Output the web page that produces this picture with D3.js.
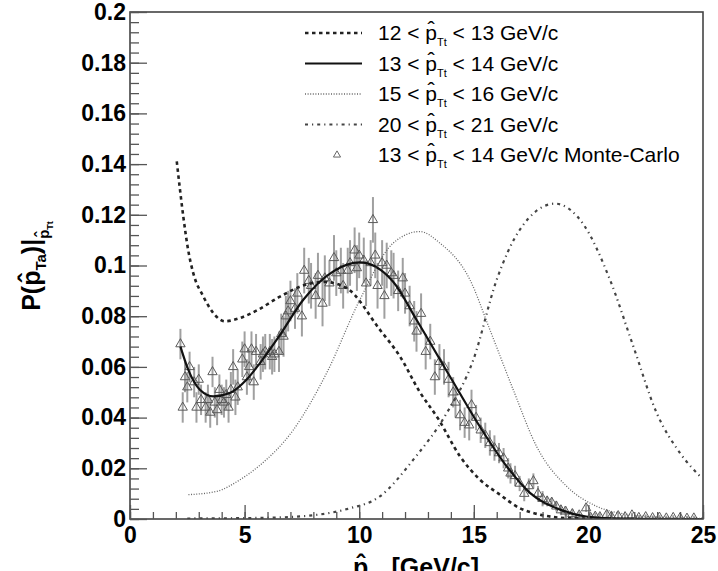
<!DOCTYPE html>
<html>
<head>
<meta charset="utf-8">
<script src="https://cdn.jsdelivr.net/npm/d3@7"></script>
<style>
  html, body { margin: 0; padding: 0; background: #fff; }
  svg { display: block; font-family: "Liberation Sans", Arial, Helvetica, sans-serif; }
  svg text { white-space: pre; }
</style>
</head>
<body>
<svg id="chart" width="718" height="571"></svg>
<script>
// Conditional distributions P(p_Ta) for several trigger-momentum bins
const xTickValues = [0, 5, 10, 15, 20, 25];
const xTickLabels = ["0", "5", "10", "15", "20", "25"];
const yTickValues = [0, 0.02, 0.04, 0.06, 0.08, 0.1, 0.12, 0.14, 0.16, 0.18, 0.2];
const yTickLabels = ["0", "0.02", "0.04", "0.06", "0.08", "0.1", "0.12", "0.14", "0.16", "0.18", "0.2"];

// 12 < pTt < 13 GeV/c
const bin12X = [2.04, 2.18, 2.33, 2.54, 2.76, 3.2, 3.63, 4.14, 4.8, 5.6, 6.5, 7.7, 8.5, 9.45, 10.9, 11.78, 12.65, 13.45, 14.4, 15.27, 16.14, 17.0, 17.9, 19.0, 20.5, 22.0, 25.0];
const bin12Y = [0.1411, 0.130, 0.119, 0.106, 0.097, 0.0878, 0.0813, 0.0780, 0.0793, 0.0826, 0.0875, 0.0925, 0.0935, 0.0911, 0.0747, 0.0641, 0.0500, 0.0395, 0.0247, 0.0155, 0.0096, 0.0043, 0.0017, 0.0004, 0.0001, 0.0, 0.0];

// 13 < pTt < 14 GeV/c
const bin13X = [2.2, 2.54, 3.05, 3.64, 4.36, 5.09, 5.67, 6.5, 7.56, 8.87, 10.03, 11.49, 12.5, 13.96, 15.35, 16.44, 17.45, 18.76, 19.9, 21.0, 23.0, 25.0];
const bin13Y = [0.0680, 0.0589, 0.0510, 0.0484, 0.0497, 0.0550, 0.0615, 0.0720, 0.0865, 0.0977, 0.1012, 0.0935, 0.0786, 0.0562, 0.0352, 0.0207, 0.0103, 0.0037, 0.0010, 0.0003, 0.0, 0.0];

// 15 < pTt < 16 GeV/c
const bin15X = [2.55, 3.78, 4.8, 5.6, 7.13, 8.58, 10.03, 11.49, 12.65, 13.5, 14.83, 15.7, 16.72, 17.74, 19.05, 20.36, 21.8, 23.5, 25.0];
const bin15Y = [0.0096, 0.0109, 0.0155, 0.0207, 0.0352, 0.0576, 0.0865, 0.1089, 0.1134, 0.1090, 0.0944, 0.0747, 0.0510, 0.0286, 0.0129, 0.0050, 0.0017, 0.0005, 0.0002];

// 20 < pTt < 21 GeV/c
const bin20X = [2.5, 6.0, 8.0, 9.5, 10.9, 12.36, 13.82, 14.98, 16.0, 17.0, 18.54, 19.8, 20.94, 21.96, 22.98, 24.0, 24.94];
const bin20Y = [0.0002, 0.0005, 0.0015, 0.0040, 0.0089, 0.0234, 0.0418, 0.0628, 0.0944, 0.1140, 0.1244, 0.1160, 0.0944, 0.0681, 0.0418, 0.0260, 0.0162];

// Monte-Carlo, 13 < pTt < 14 GeV/c
const mcX = [2.2, 2.3, 2.4, 2.5, 2.6, 2.8, 2.9, 3.0, 3.1, 3.3, 3.4, 3.5, 3.6, 3.7, 3.8, 3.9, 4.0, 4.1, 4.2, 4.3,
             4.4, 4.5, 4.6, 4.7, 4.9, 5.0, 5.1, 5.2, 5.3, 5.4, 5.5, 5.7, 5.8, 5.9, 6.1, 6.2, 6.3, 6.5, 6.6, 6.7,
             6.8, 6.9, 7.0, 7.2, 7.3, 7.5, 7.6, 7.8, 7.9, 8.1, 8.2, 8.4, 8.5, 8.7, 8.9, 9.0, 9.2, 9.3, 9.5, 9.6,
             9.8, 9.9, 10.0, 10.2, 10.3, 10.5, 10.6, 10.7, 10.8, 11.0, 11.1, 11.2, 11.4, 11.5, 11.7, 11.9, 12.0, 12.2, 12.4, 12.5,
             12.7, 12.9, 13.1, 13.3, 13.5, 13.7, 13.9, 14.1, 14.2, 14.4, 14.6, 14.8, 14.9, 15.1, 15.3, 15.5, 15.7, 15.9, 16.1, 16.3,
             16.5, 16.6, 16.8, 17.0, 17.2, 17.4, 17.6, 17.8, 18.0, 18.2, 18.4, 18.6, 18.8, 19.0, 19.3, 19.6, 19.9, 20.1, 20.3, 20.5,
             20.8, 21.0, 21.3, 21.6, 21.9, 22.2, 22.5, 22.8, 23.1, 23.4, 23.7, 24.0, 24.3, 24.6];
const mcY = [0.069, 0.044, 0.056, 0.052, 0.060, 0.054, 0.044, 0.055, 0.047, 0.044, 0.047, 0.042, 0.058, 0.046, 0.043, 0.051, 0.047, 0.046, 0.049, 0.044,
             0.051, 0.060, 0.048, 0.052, 0.063, 0.067, 0.056, 0.060, 0.067, 0.054, 0.066, 0.062, 0.065, 0.066, 0.066, 0.064, 0.065, 0.066, 0.073, 0.072,
             0.080, 0.082, 0.086, 0.083, 0.089, 0.080, 0.098, 0.094, 0.092, 0.088, 0.096, 0.085, 0.095, 0.093, 0.103, 0.097, 0.098, 0.092, 0.098, 0.101,
             0.106, 0.099, 0.104, 0.102, 0.093, 0.101, 0.118, 0.104, 0.092, 0.101, 0.088, 0.100, 0.097, 0.096, 0.090, 0.095, 0.089, 0.084, 0.078, 0.074,
             0.081, 0.066, 0.070, 0.056, 0.062, 0.060, 0.055, 0.050, 0.046, 0.041, 0.038, 0.037, 0.045, 0.040, 0.035, 0.033, 0.030, 0.028, 0.026, 0.024,
             0.020, 0.018, 0.017, 0.014, 0.010, 0.013, 0.015, 0.010, 0.008, 0.007, 0.0065, 0.005, 0.0035, 0.003, 0.002, 0.0015, 0.0043, 0.0005, 0.001, 0.0008,
             0.0017, 0.001, 0.0012, 0.0008, 0.0015, 0.0005, 0.0008, 0.0004, 0.0006, 0.0003, 0.0005, 0.0004, 0.0002, 0.0003];
const mcErr = [0.006, 0.006, 0.006, 0.006, 0.006, 0.006, 0.006, 0.006, 0.006, 0.006, 0.006, 0.006, 0.006, 0.006, 0.006, 0.006, 0.006, 0.006, 0.006, 0.006,
               0.007, 0.007, 0.007, 0.007, 0.007, 0.007, 0.007, 0.007, 0.007, 0.007, 0.007, 0.007, 0.007, 0.007, 0.007, 0.007, 0.007, 0.008, 0.008, 0.008,
               0.008, 0.008, 0.008, 0.008, 0.008, 0.008, 0.009, 0.009, 0.009, 0.009, 0.009, 0.009, 0.009, 0.009, 0.009, 0.009, 0.009, 0.009, 0.009, 0.009,
               0.009, 0.009, 0.009, 0.009, 0.009, 0.009, 0.009, 0.009, 0.009, 0.009, 0.009, 0.009, 0.009, 0.009, 0.008, 0.008, 0.008, 0.008, 0.008, 0.008,
               0.008, 0.007, 0.007, 0.007, 0.007, 0.007, 0.007, 0.006, 0.006, 0.006, 0.006, 0.006, 0.006, 0.005, 0.005, 0.005, 0.005, 0.005, 0.004, 0.004,
               0.004, 0.004, 0.004, 0.003, 0.003, 0.003, 0.003, 0.003, 0.003, 0.002, 0.002, 0.002, 0.002, 0.002, 0.002, 0.0015, 0.0015, 0.0015, 0.0015, 0.0015,
               0.0015, 0.0015, 0.0015, 0.001, 0.001, 0.001, 0.001, 0.001, 0.001, 0.001, 0.001, 0.001, 0.001, 0.001];

const legendLow = ["12", "13", "15", "20", "13"];
const legendHigh = ["13", "14", "16", "21", "14"];
const legendTail = ["", "", "", "", " Monte-Carlo"];

const svg = d3.select("#chart");
const FONT = "'Liberation Sans', Arial, Helvetica, sans-serif";

const x = d3.scaleLinear().domain([0, 25]).range([130, 703]);
const y = d3.scaleLinear().domain([0, 0.2]).range([519, 12]);

// clip region for the plot frame
svg.append("defs").append("clipPath").attr("id", "frame")
  .append("rect").attr("x", x(0)).attr("y", y(0.2))
  .attr("width", x(25) - x(0)).attr("height", y(0) - y(0.2));

const plot = svg.append("g").attr("clip-path", "url(#frame)");

const line = d3.line().x(d => x(d[0])).y(d => y(d[1])).curve(d3.curveMonotoneX);
const zip = (a, b) => a.map((v, i) => [v, b[i]]);

// Monte-Carlo error bars and markers
const mc = mcX.map((v, i) => ({ x: v, y: mcY[i], e: mcErr[i] }));
plot.append("g").selectAll("line").data(mc).join("line")
  .attr("x1", d => x(d.x)).attr("x2", d => x(d.x))
  .attr("y1", d => y(d.y - d.e)).attr("y2", d => y(d.y + d.e))
  .attr("stroke", "#a0a0a0").attr("stroke-width", 2);
const tri = d3.symbol().type(d3.symbolTriangle).size(38);
plot.append("g").selectAll("path").data(mc).join("path")
  .attr("d", tri)
  .attr("transform", d => `translate(${x(d.x)},${y(d.y)})`)
  .attr("fill", "none").attr("stroke", "#5a5a5a").attr("stroke-width", 1);

// curves
const curves = [
  { xs: bin12X, ys: bin12Y, color: "#222", width: 2.6, dash: "3.5,3.5" },
  { xs: bin13X, ys: bin13Y, color: "#111", width: 2.2, dash: null },
  { xs: bin15X, ys: bin15Y, color: "#666", width: 1.3, dash: "1,1.6" },
  { xs: bin20X, ys: bin20Y, color: "#444", width: 2.2, dash: "3,4,1.2,4" }
];
curves.forEach(c => {
  plot.append("path").datum(zip(c.xs, c.ys))
    .attr("d", line).attr("fill", "none")
    .attr("stroke", c.color).attr("stroke-width", c.width)
    .attr("stroke-dasharray", c.dash);
});

// frame
svg.append("rect").attr("x", x(0)).attr("y", y(0.2))
  .attr("width", x(25) - x(0)).attr("height", y(0) - y(0.2))
  .attr("fill", "none").attr("stroke", "#444").attr("stroke-width", 1.6);

// y axis: inward ticks
const yMinor = d3.range(0, 0.2001, 0.004);
svg.append("g").attr("transform", `translate(${x(0)},0)`)
  .call(d3.axisRight(y).tickValues(yMinor).tickSize(9).tickFormat(""))
  .call(g => g.select(".domain").remove())
  .call(g => g.selectAll("line").attr("stroke", "#555").attr("stroke-width", 1.3));
svg.append("g").attr("transform", `translate(${x(0)},0)`)
  .call(d3.axisRight(y).tickValues(yTickValues).tickSize(17).tickFormat(""))
  .call(g => g.select(".domain").remove())
  .call(g => g.selectAll("line").attr("stroke", "#555").attr("stroke-width", 1.3));
svg.append("g").attr("transform", `translate(${x(0)},0)`)
  .call(d3.axisLeft(y).tickValues(yTickValues).tickSize(0).tickPadding(4)
    .tickFormat((d, i) => yTickLabels[i]))
  .call(g => g.select(".domain").remove())
  .call(g => g.selectAll("text").attr("font-size", 23).attr("font-weight", "bold")
    .attr("font-family", FONT).attr("fill", "#000"));

// x axis: inward ticks
const xMinor = d3.range(0, 25.001, 1);
svg.append("g").attr("transform", `translate(0,${y(0)})`)
  .call(d3.axisTop(x).tickValues(xMinor).tickSize(7).tickFormat(""))
  .call(g => g.select(".domain").remove())
  .call(g => g.selectAll("line").attr("stroke", "#555").attr("stroke-width", 1.3));
svg.append("g").attr("transform", `translate(0,${y(0)})`)
  .call(d3.axisTop(x).tickValues(xTickValues).tickSize(14).tickFormat(""))
  .call(g => g.select(".domain").remove())
  .call(g => g.selectAll("line").attr("stroke", "#555").attr("stroke-width", 1.3));
svg.append("g").attr("transform", `translate(0,${y(0)})`)
  .call(d3.axisBottom(x).tickValues(xTickValues).tickSize(0).tickPadding(8)
    .tickFormat((d, i) => xTickLabels[i]))
  .call(g => g.select(".domain").remove())
  .call(g => g.selectAll("text").attr("font-size", 23).attr("font-weight", "bold")
    .attr("font-family", FONT).attr("fill", "#000"));

// text with sub/superscripts and hats built from measured segments
function rich(parent, segs, weight) {
  const g = parent.append("g");
  let cx = 0;
  segs.forEach(s => {
    const t = g.append("text").attr("x", cx).attr("y", s.dy || 0)
      .attr("font-size", s.size).attr("font-weight", weight)
      .attr("font-family", FONT).attr("fill", "#000")
      .attr("xml:space", "preserve").style("white-space", "pre").text(s.t);
    const w = t.node().getComputedTextLength();
    if (s.hat) {
      g.append("text").attr("x", cx + w / 2).attr("y", (s.dy || 0) - s.size * 0.12)
        .attr("text-anchor", "middle").attr("font-size", s.size * 1.05)
        .attr("font-weight", weight).attr("font-family", FONT).attr("fill", "#000")
        .text("\u02C6");
    }
    cx += w;
  });
  return { g, width: cx };
}

// x-axis title (runs off the bottom edge of the canvas)
{
  const r = rich(svg, [
    { t: "p", size: 25, hat: true },
    { t: "Ta", size: 15, dy: 6 },
    { t: " [GeV/c]", size: 25 }
  ], "bold");
  r.g.attr("transform", `translate(${416 - r.width / 2},576)`);
}

// y-axis title
{
  const r = rich(svg, [
    { t: "P(", size: 25 },
    { t: "p", size: 25, hat: true },
    { t: "Ta", size: 15, dy: 6 },
    { t: ")|", size: 25 },
    { t: "p", size: 15, dy: 9, hat: true },
    { t: "Tt", size: 9, dy: 13 }
  ], "bold");
  r.g.attr("transform", `translate(40,${266 + r.width / 2}) rotate(-90)`);
}

// legend
const legend = svg.append("g");
legendLow.forEach((lo, i) => {
  const cy = 33 + i * 30.5;
  if (i < 4) {
    const st = curves[i];
    legend.append("line").attr("x1", 305).attr("x2", 362).attr("y1", cy).attr("y2", cy)
      .attr("stroke", st.color).attr("stroke-width", st.width).attr("stroke-dasharray", st.dash);
  } else {
    legend.append("path").attr("d", d3.symbol().type(d3.symbolTriangle).size(22))
      .attr("transform", `translate(337,${cy})`)
      .attr("fill", "none").attr("stroke", "#666").attr("stroke-width", 1);
  }
  const r = rich(legend, [
    { t: `${lo} < `, size: 21 },
    { t: "p", size: 21, hat: true },
    { t: "Tt", size: 11, dy: 6 },
    { t: ` < ${legendHigh[i]} GeV/c${legendTail[i]}`, size: 21 }
  ], "normal");
  r.g.attr("transform", `translate(378,${cy + 7})`);
});
</script>
</body>
</html>
